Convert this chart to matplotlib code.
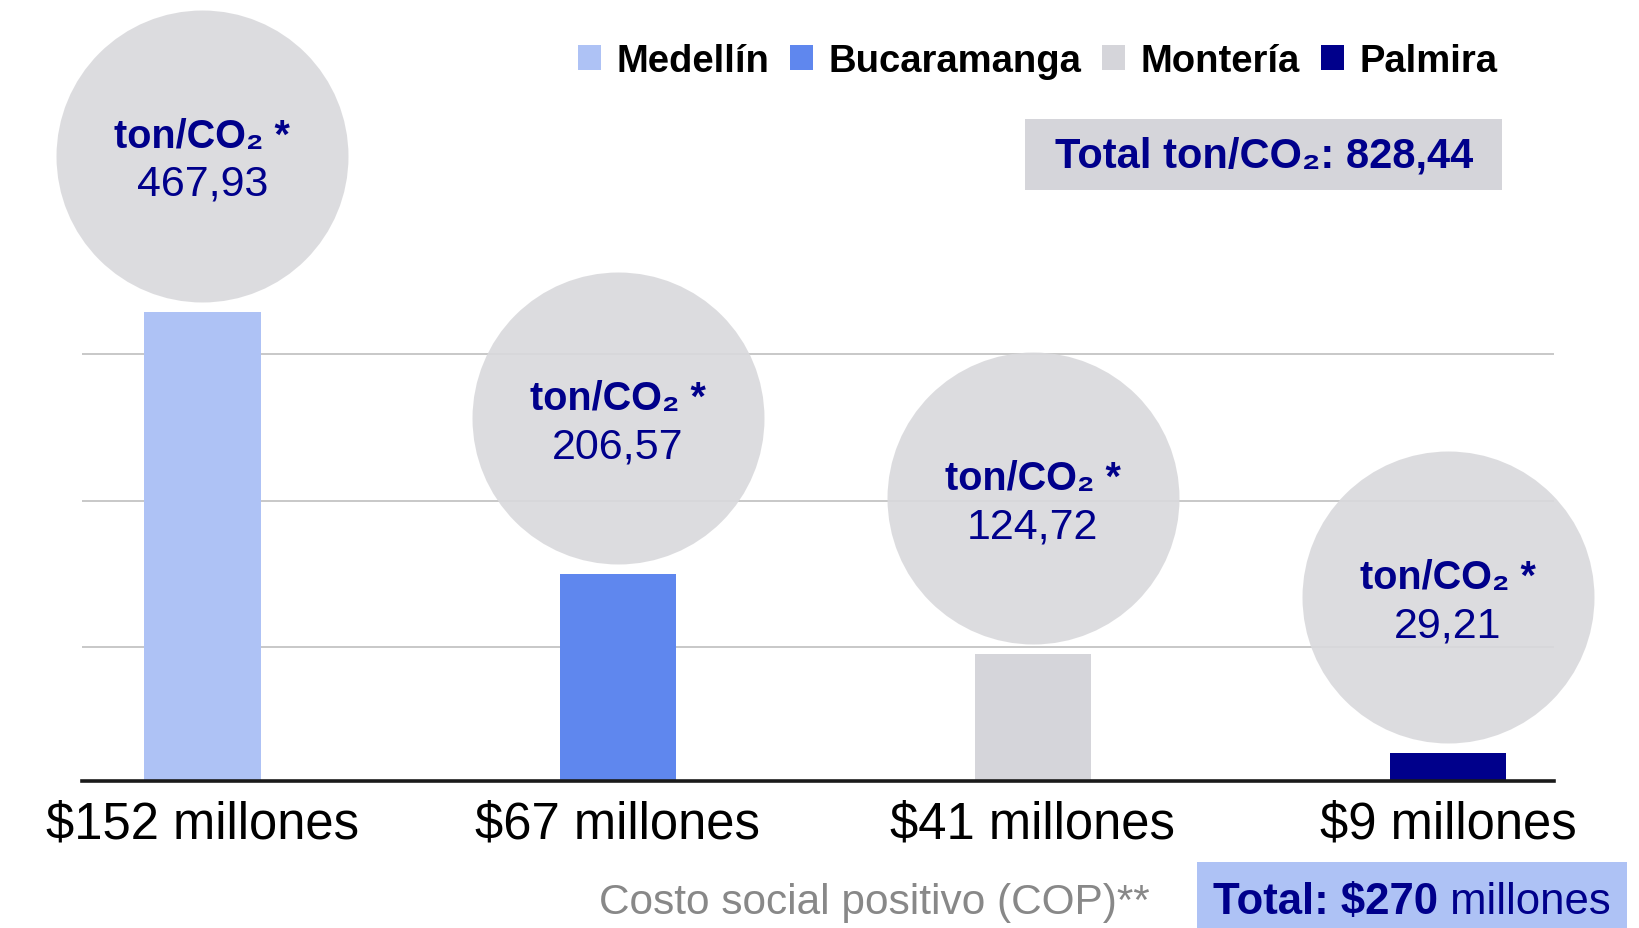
"""
Costo social positivo y toneladas de CO2 por ciudad
"""
import matplotlib
matplotlib.use('Agg')
import matplotlib.pyplot as plt
from matplotlib.patches import Patch, Rectangle
from matplotlib.text import Annotation
from matplotlib.transforms import offset_copy

FONT = ['Liberation Sans', 'DejaVu Sans']
plt.rcParams['font.family'] = FONT

# datos
ciudades = ['Medellín', 'Bucaramanga', 'Montería', 'Palmira']
costo_millones = [152, 67, 41, 9]
ton_co2 = [467.93, 206.57, 124.72, 29.21]
total_ton = 828.44
total_costo = 270

colores = ['#aec2f5', '#5f87ee', '#d5d5da', '#00008b']
NAVY = '#00008b'
W, H = 1639, 929


def fx(px):
    return px / W


def fy(py):
    return 1 - py / H


def coma(v):
    return f'{v:.2f}'.replace('.', ',')


fig = plt.figure(figsize=(W / 100, H / 100), dpi=100)
ax = fig.add_axes([fx(82), fy(782), fx(1554) - fx(82), fy(10) - fy(782)])

x = range(len(ciudades))
bars = ax.bar(x, costo_millones, width=0.28, color=colores, zorder=3)

ax.set_xlim(-0.29, 3.255)
ax.set_ylim(0, 250)
ax.set_yticks([43.4, 90.6, 138.2])
ax.yaxis.grid(True, color='#b9b9b9', linewidth=1.1, zorder=0)
ax.tick_params(axis='y', length=0, labelleft=False)
ax.set_xticks(list(x))
ax.set_xticklabels([f'${v} millones' for v in costo_millones], fontsize=36.5, color='black')
ax.tick_params(axis='x', length=0, pad=13)
for s in ['left', 'right', 'top']:
    ax.spines[s].set_visible(False)
ax.spines['bottom'].set_linewidth(2.6)
ax.spines['bottom'].set_color('#1a1a1a')
ax.spines['bottom'].set_zorder(4)

# burbujas con las toneladas encima de cada barra
for i, (v, t) in enumerate(zip(costo_millones, ton_co2)):
    centro = offset_copy(ax.transData, fig=fig, x=0, y=156, units='dots')
    ax.scatter([i], [v], s=44200, color='#d9d9dc', alpha=0.9, linewidths=0,
               transform=centro, zorder=4, clip_on=False)
    arriba = offset_copy(ax.transData, fig=fig, x=0, y=176, units='dots')
    abajo = offset_copy(ax.transData, fig=fig, x=0, y=128, units='dots')
    ax.text(i, v, 'ton/CO₂ *', transform=arriba, ha='center', va='center',
            fontsize=28.5, fontweight='bold', color=NAVY, zorder=5)
    ax.text(i, v, coma(t), transform=abajo, ha='center', va='center',
            fontsize=31, color=NAVY, zorder=5)

# leyenda
handles = [Patch(facecolor=c, edgecolor='none') for c in colores]
fig.legend(handles, ciudades, loc='center right', bbox_to_anchor=(fx(1497), fy(62)),
           ncol=4, frameon=False, prop={'family': FONT, 'weight': 'bold', 'size': 27.5},
           handlelength=0.6, handleheight=0.6, handletextpad=0.4,
           columnspacing=0.55, borderpad=0, borderaxespad=0)

# total de toneladas
fig.add_artist(Rectangle((fx(1025), fy(191)), fx(1502) - fx(1025), fy(120) - fy(191),
                         transform=fig.transFigure, facecolor='#d5d5da', edgecolor='none',
                         zorder=1))
fig.text(fx(1264), fy(156), f'Total ton/CO₂: {coma(total_ton)}', ha='center', va='center',
         fontsize=30, fontweight='bold', color=NAVY, zorder=3)

# pie: costo social y total
fig.text(fx(1150), fy(903), 'Costo social positivo (COP)**', ha='right', va='center',
         fontsize=30.5, color='#888888')
fig.add_artist(Rectangle((fx(1197), 0), fx(1627) - fx(1197), fy(863),
                         transform=fig.transFigure, facecolor='#aec2f5', edgecolor='none',
                         zorder=1))
t1 = fig.text(fx(1213), fy(903), f'Total: ${total_costo}', ha='left', va='center',
              fontsize=31.5, fontweight='bold', color=NAVY, zorder=3)
fig.add_artist(Annotation(' millones', xy=(1, 0), xycoords=t1, va='bottom', ha='left',
                          fontsize=31.5, color=NAVY, zorder=3))

fig.savefig('out.png', dpi=100)
plt.close(fig)
